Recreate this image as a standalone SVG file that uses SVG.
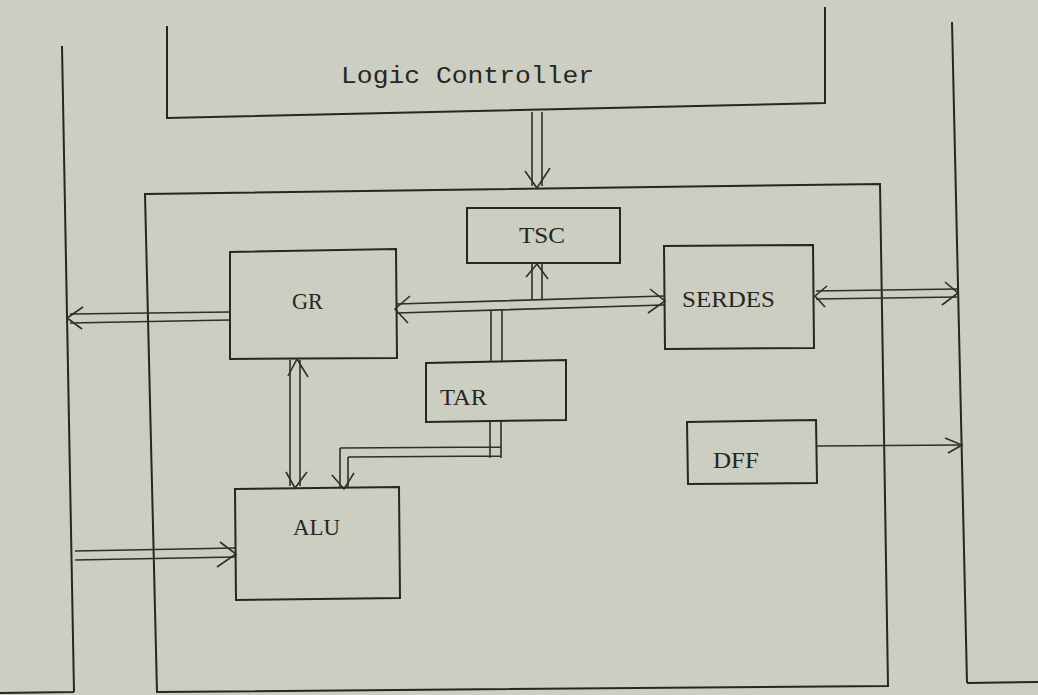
<svg xmlns="http://www.w3.org/2000/svg" width="1038" height="695" viewBox="0 0 1038 695">
<style>
.ln{fill:none;stroke:#262624;stroke-width:2;stroke-linejoin:miter;stroke-linecap:butt}
.thin{fill:none;stroke:#2e2e2c;stroke-width:1.6}
.lbl{font-family:"Liberation Serif","DejaVu Serif",serif;font-size:23px;fill:#262624}
.mono{font-family:"Liberation Mono","DejaVu Sans Mono",monospace;font-size:24px;fill:#262624}
</style>
<rect width="1038" height="695" fill="#cbcec0"/>
<g id="left-bus"><path class="ln" d="M62,46 L74,692 M0,693 L74,692"/></g>
<g id="right-bus"><path class="ln" d="M952,22 L967,683 M967,683 L1038,682"/></g>
<g id="logic-controller">
<path class="ln" d="M167,26 L167,118 L825,103 L825,7"/>
<text class="mono" x="341" y="83" textLength="253" lengthAdjust="spacingAndGlyphs">Logic Controller</text>
</g>
<g id="processor"><path class="ln" d="M145,194 L880,184 L888,686 L157,692 Z"/></g>
<g id="TSC"><rect class="ln" x="467" y="208" width="153" height="55"/><text class="lbl" x="519" y="243" textLength="46" lengthAdjust="spacingAndGlyphs">TSC</text></g>
<g id="GR"><path class="ln" d="M230,252 L396,249 L397,358 L230,359 Z"/><text class="lbl" x="292" y="309" textLength="31" lengthAdjust="spacingAndGlyphs">GR</text></g>
<g id="SERDES"><path class="ln" d="M664,246 L813,245 L814,348 L665,349 Z"/><text class="lbl" x="682" y="307" textLength="93" lengthAdjust="spacingAndGlyphs">SERDES</text></g>
<g id="TAR"><path class="ln" d="M426,363 L566,360 L566,420 L426,422 Z"/><text class="lbl" x="440" y="405" textLength="47" lengthAdjust="spacingAndGlyphs">TAR</text></g>
<g id="DFF"><path class="ln" d="M687,422 L816,420 L817,483 L688,484 Z"/><text class="lbl" x="713" y="468" textLength="46" lengthAdjust="spacingAndGlyphs">DFF</text></g>
<g id="ALU"><path class="ln" d="M235,489 L399,487 L400,598 L236,600 Z"/><text class="lbl" x="293" y="535" textLength="47" lengthAdjust="spacingAndGlyphs">ALU</text></g>
<g id="connectors">
<!-- Logic Controller to processor -->
<path class="thin" d="M532,112 L532,186 M542,112 L542,186"/>
<path class="thin" d="M525,171 L537,188 L550,168"/>
<!-- GR <-> SERDES bus -->
<path class="thin" d="M397,304 L664,296 M397,313 L664,305"/>
<path class="thin" d="M410,296 L395,309 L408,323"/>
<path class="thin" d="M650,289 L665,301 L648,313"/>
<!-- bus -> TSC -->
<path class="thin" d="M532,300 L532,264 M542,300 L542,264"/>
<path class="thin" d="M526,277 L537,264 L548,279"/>
<!-- TAR -> bus -->
<path class="thin" d="M491,310 L491,362 M502,309 L502,361"/>
<!-- GR <-> ALU -->
<path class="thin" d="M290,360 L290,486 M300,360 L300,486"/>
<path class="thin" d="M288,376 L297,359 L308,377"/>
<path class="thin" d="M286,472 L295,488 L307,472"/>
<!-- TAR -> ALU -->
<path class="thin" d="M490,421 L490,458 M501,421 L501,458 M340,448 L501,447 M348,457 L501,456 M340,448 L340,487 M348,457 L348,487"/>
<path class="thin" d="M332,475 L344,489 L354,473"/>
<!-- GR -> left bus -->
<path class="thin" d="M230,312 L70,314 M230,320 L70,323"/>
<path class="thin" d="M83,307 L67,318 L82,329"/>
<!-- left bus -> ALU -->
<path class="thin" d="M75,551 L235,548 M75,560 L235,557"/>
<path class="thin" d="M220,542 L236,554 L217,567"/>
<!-- SERDES <-> right bus -->
<path class="thin" d="M816,291 L957,289 M816,299 L957,297"/>
<path class="thin" d="M827,286 L815,296 L825,307"/>
<path class="thin" d="M945,282 L958,293 L942,305"/>
<!-- DFF -> right bus -->
<path class="thin" d="M817,446 L962,445"/>
<path class="thin" d="M945,438 L962,445 L948,453"/>
</g>
</svg>
